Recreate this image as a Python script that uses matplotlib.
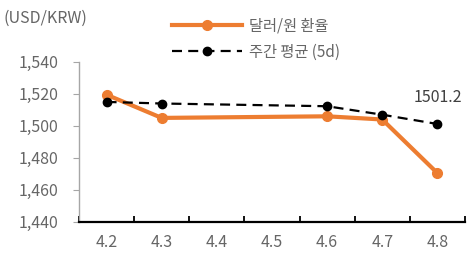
import numpy as np
import matplotlib.pyplot as plt

plt.rcParams['font.family'] = ['Noto Sans CJK KR', 'DejaVu Sans']
plt.rcParams['font.weight'] = 'light'

categories = ["4.2", "4.3", "4.4", "4.5", "4.6", "4.7", "4.8"]
rate = [1519.5, 1505.0, np.nan, np.nan, 1506.0, 1504.0, 1470.5]
avg5d = [1515.0, 1514.0, np.nan, np.nan, 1512.3, 1507.0, 1501.2]

x = np.arange(len(categories))
rate = np.array(rate)
avg5d = np.array(avg5d)
ok = ~np.isnan(rate)

orange = "#ED7D31"
gray = "#666666"

fig = plt.figure(figsize=(4.73, 2.58), dpi=100)
ax = fig.add_axes([0.167, 0.140, 0.816, 0.620])

ax.plot(x[ok], rate[ok], color=orange, lw=3, marker="o", ms=7,
        label="달러/원 환율", zorder=3)
ax.plot(x[ok], avg5d[ok], color="black", lw=1.6, ls=(0, (4.5, 2.8)), marker="o",
        ms=6, label="주간 평균 (5d)", zorder=4)

ax.annotate("1501.2", (x[-1], avg5d[-1]), xytext=(0, 13), textcoords="offset points",
            ha="center", va="bottom", fontsize=11.5, color="#404040")

ax.set_xlim(-0.5, len(categories) - 0.5)
ax.set_ylim(1440, 1540)
ax.set_yticks(np.arange(1440, 1541, 20))
ax.set_yticklabels([f"{v:,}" for v in range(1440, 1541, 20)])
ax.set_xticks(x)
ax.set_xticklabels(categories)
ax.set_xticks(np.arange(-0.5, len(categories)), minor=True)

ax.tick_params(axis="x", which="major", length=0, pad=9, labelsize=11.5, labelcolor=gray)
ax.tick_params(axis="x", which="minor", direction="in", length=4, width=1.3, color="black")
ax.tick_params(axis="y", length=4, width=0.8, color="#A6A6A6", pad=11,
               labelsize=11.5, labelcolor=gray)

for s in ["top", "right"]:
    ax.spines[s].set_visible(False)
ax.spines["left"].set_color("#A6A6A6")
ax.spines["left"].set_linewidth(1.0)
ax.spines["bottom"].set_color("black")
ax.spines["bottom"].set_linewidth(1.6)

fig.text(0.008, 0.93, "(USD/KRW)", fontsize=11.5, color=gray, va="center")

fig.legend(loc="upper left", bbox_to_anchor=(0.335, 0.985), frameon=False,
           fontsize=11, labelcolor=gray, handlelength=4.6, handletextpad=0.4,
           labelspacing=0.6)

fig.savefig("out.png", dpi=100)
